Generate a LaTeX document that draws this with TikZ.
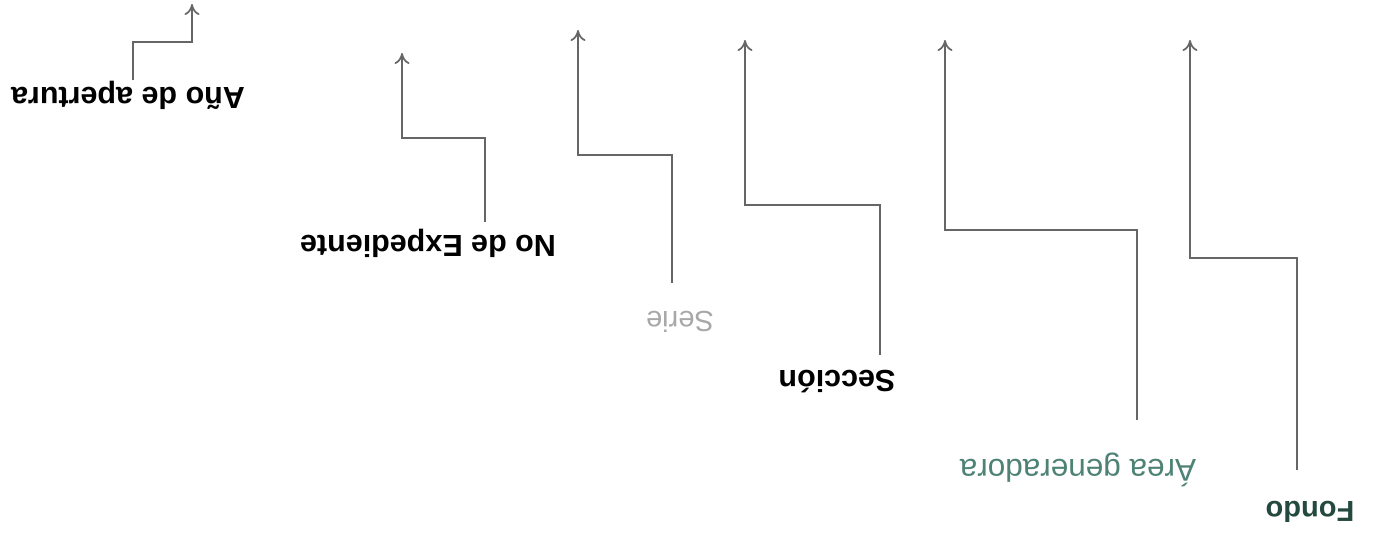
\documentclass[tikz,border=0pt]{standalone}
\usepackage{fontspec}
\setmainfont{Liberation Sans}
\usetikzlibrary{arrows.meta}
\definecolor{lineg}{HTML}{666666}
\definecolor{fondoc}{HTML}{24493F}
\definecolor{areac}{HTML}{4E8274}
\definecolor{seriec}{HTML}{A8A8A8}
\tikzset{
  lbl/.style={rotate=180, inner sep=0pt, font=\fontsize{30.5}{35}\selectfont\bfseries},
  conn/.style={draw=lineg, line width=1.7pt, -{To[length=11pt,width=15pt]}},
}
\begin{document}
\begin{tikzpicture}[x=1pt,y=-1pt]
\useasboundingbox (0,0) rectangle (1376,533);
\fill[white] (0,0) rectangle (1376,533);
% labels
\node[lbl, text=fondoc, font=\fontsize{29}{34}\selectfont\bfseries] (fondo) at (1310,512) {Fondo};
\node[lbl, text=areac, font=\fontsize{31.5}{35}\selectfont] (area) at (1078,470) {Área generadora};
\node[lbl] (seccion) at (837,382) {Sección};
\node[lbl, text=seriec, font=\fontsize{29}{34}\selectfont] (serie) at (680,322) {Serie};
\node[lbl] (exped) at (428,243) {No de Expediente};
\node[lbl] (anio) at (128,95) {Año de apertura};
% connector points
\coordinate (f0) at (1297,470); \coordinate (f1) at (1297,258); \coordinate (f2) at (1190,258); \coordinate (f3) at (1190,40);
\coordinate (a0) at (1137,420); \coordinate (a1) at (1137,230); \coordinate (a2) at (945,230); \coordinate (a3) at (945,40);
\coordinate (s0) at (880,355); \coordinate (s1) at (880,205); \coordinate (s2) at (745,205); \coordinate (s3) at (745,40);
\coordinate (e0) at (672,283); \coordinate (e1) at (672,155); \coordinate (e2) at (578,155); \coordinate (e3) at (578,30);
\coordinate (x0) at (485,222); \coordinate (x1) at (485,138); \coordinate (x2) at (402,138); \coordinate (x3) at (402,53);
\coordinate (y0) at (133,80); \coordinate (y1) at (133,42); \coordinate (y2) at (192,42); \coordinate (y3) at (192,4);
% connectors
\draw[conn] (f0) -- (f1) -- (f2) -- (f3);
\draw[conn] (a0) -- (a1) -- (a2) -- (a3);
\draw[conn] (s0) -- (s1) -- (s2) -- (s3);
\draw[conn] (e0) -- (e1) -- (e2) -- (e3);
\draw[conn] (x0) -- (x1) -- (x2) -- (x3);
\draw[conn] (y0) -- (y1) -- (y2) -- (y3);
\end{tikzpicture}
\end{document}
